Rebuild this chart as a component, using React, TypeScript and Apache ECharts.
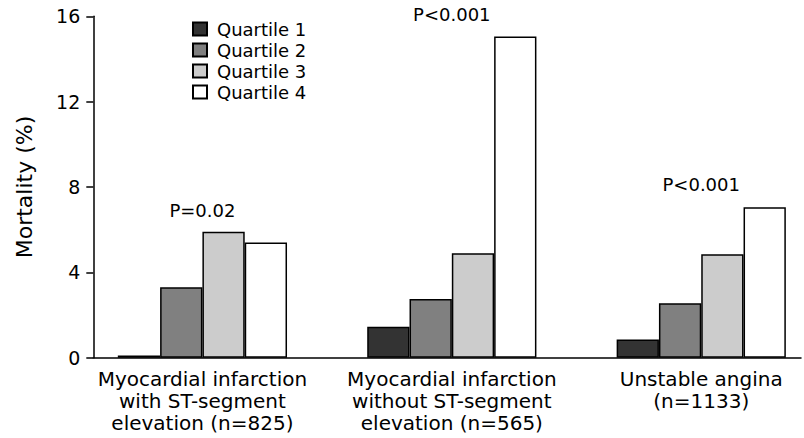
import React, { useEffect, useRef } from "react";
import * as echarts from "echarts";

const categories = [
  "Myocardial infarction\nwith ST-segment\nelevation (n=825)",
  "Myocardial infarction\nwithout ST-segment\nelevation (n=565)",
  "Unstable angina\n(n=1133)",
];
const groupPositions = [1, 2, 3];
const seriesNames = ["Quartile 1", "Quartile 2", "Quartile 3", "Quartile 4"];
const quartile1 = [0.1, 1.45, 0.85];
const quartile2 = [3.3, 2.75, 2.55];
const quartile3 = [5.9, 4.9, 4.85];
const quartile4 = [5.4, 15.05, 7.05];
const pTexts = ["P=0.02", "P<0.001", "P<0.001"];
const pTextLevels = [6.9, 16.1, 8.1];
const yTicks = { min: 0, max: 16, interval: 4 };

const fills = ["#333333", "#808080", "#cccccc", "#ffffff"];
const FONT = "DejaVu Sans";

export default function App() {
  const ref = useRef<HTMLDivElement>(null);
  useEffect(() => {
    if (!ref.current) return;
    const chart = echarts.init(ref.current, null, { renderer: "svg" });
    const values = [quartile1, quartile2, quartile3, quartile4];
    const barSeries = values.map((vals, i) => ({
      name: seriesNames[i],
      type: "bar",
      barWidth: 42.3,
      barGap: "0%",
      data: vals.map((v, j) => [groupPositions[j], v]),
      itemStyle: { color: fills[i], borderColor: "#000", borderWidth: 1.5 },
    }));
    chart.setOption({
      animation: false,
      backgroundColor: "#ffffff",
      legend: {
        orient: "vertical",
        left: 192,
        top: 20,
        padding: 0,
        icon: "rect",
        itemWidth: 14,
        itemHeight: 13,
        itemGap: 3,
        data: seriesNames,
        textStyle: {
          fontFamily: FONT,
          fontSize: 18,
          color: "#000",
          padding: [0, 0, 0, 5],
        },
      },
      grid: { left: 93.3, right: 0, top: 16.3, bottom: 80.3 },
      xAxis: {
        type: "value",
        min: 0.5625,
        max: 3.4,
        interval: 0.0625,
        axisLine: { show: true, lineStyle: { color: "#000", width: 1.5 } },
        axisTick: { show: false },
        splitLine: { show: false },
        axisLabel: {
          margin: 10,
          fontFamily: FONT,
          fontSize: 20,
          lineHeight: 22,
          color: "#000",
          formatter: (v: number) => {
            const idx = groupPositions.findIndex((g) => Math.abs(g - v) < 1e-6);
            return idx >= 0 ? categories[idx] : "";
          },
        },
      },
      yAxis: {
        type: "value",
        min: yTicks.min,
        max: yTicks.max,
        interval: yTicks.interval,
        name: "Mortality (%)",
        nameLocation: "middle",
        nameGap: 58,
        nameTextStyle: { fontFamily: FONT, fontSize: 22, color: "#000" },
        axisLine: { show: true, lineStyle: { color: "#000", width: 1.5 } },
        axisTick: { show: true, length: 7, lineStyle: { color: "#000", width: 1.5 } },
        splitLine: { show: false },
        axisLabel: { margin: 13, fontFamily: FONT, fontSize: 19, color: "#000" },
      },
      series: [
        ...barSeries,
        {
          type: "scatter",
          clip: false,
          silent: true,
          symbolSize: 1,
          itemStyle: { color: "#000", opacity: 0 },
          data: pTexts.map((t, j) => ({ value: [groupPositions[j], pTextLevels[j]], name: t })),
          label: {
            show: true,
            position: "inside",
            formatter: (p: any) => p.name,
            fontFamily: FONT,
            fontSize: 18,
            color: "#000",
            opacity: 1,
            textBorderWidth: 0,
          },
        },
      ],
    });
    return () => chart.dispose();
  }, []);
  return (
    <div
      ref={ref}
      style={{ position: "fixed", left: 0, top: 0, width: 804, height: 438 }}
    />
  );
}
